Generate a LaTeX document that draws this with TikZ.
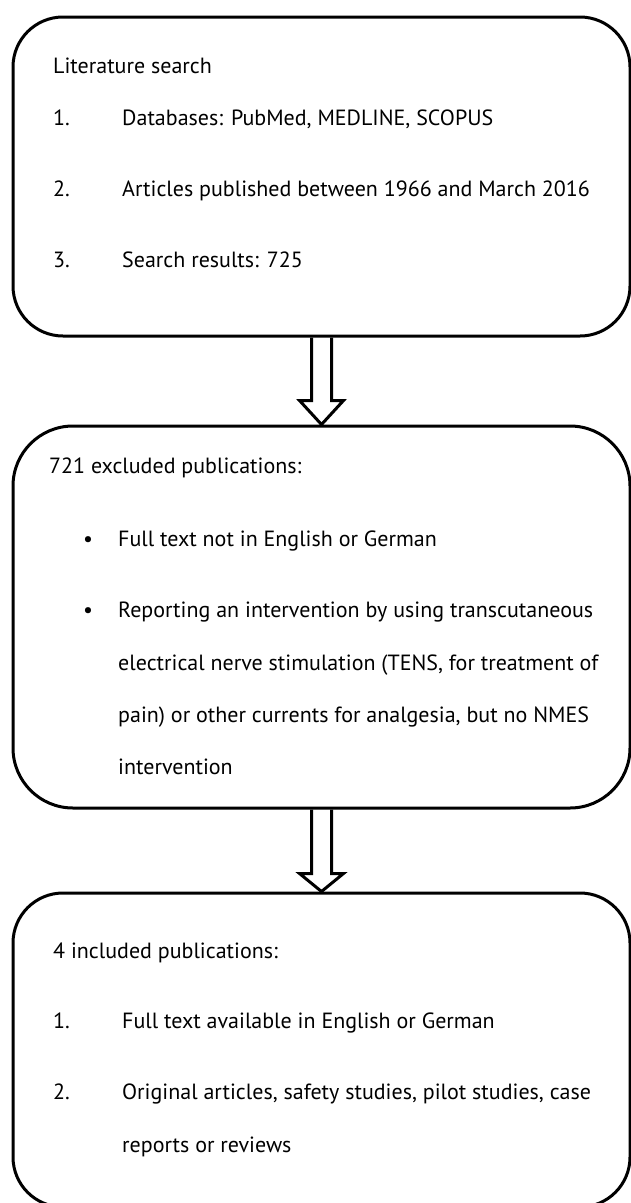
\documentclass[tikz,border=0pt]{standalone}
\usepackage{fontspec}
\setmainfont{PT Sans}
\usetikzlibrary{calc}

\begin{document}
\begin{tikzpicture}[x=1pt, y=-1pt,
  box/.style={draw, line width=3pt, rounded corners=#1, minimum width=617pt, inner sep=0pt},
  box/.default=50pt,
  txt/.style={anchor=base west, inner sep=0pt, font=\fontsize{22}{26}\selectfont},
  hollow/.style={line width=3pt}]

\useasboundingbox (0,0) rectangle (631,1203);

% Three rounded boxes
\node[box, minimum height=319pt] (search) at (321.5,176.5) {};
\node[box=60pt, minimum height=382pt] (excl) at (321.5,617) {};
\node[box, minimum height=314pt] (incl) at (321.5,1050) {};

% Literature search
\node[txt] (title1) at (53,73) {Literature search};
\node[txt] (num11) at (53,125) {1.};
\node[txt] (item11) at (122,125) {Databases: PubMed, MEDLINE, SCOPUS};
\node[txt] (num12) at (53,196) {2.};
\node[txt] (item12) at (122,196) {Articles published between 1966 and March 2016};
\node[txt] (num13) at (53,267) {3.};
\node[txt] (item13) at (122,267) {Search results: 725};

% Excluded
\node[txt] (title2) at (49,473) {721 excluded publications:};
\node[txt] (dot21) at (83,546) {\textbullet};
\node[txt] (item21) at (118,546) {Full text not in English or German};
\node[txt] (dot22) at (83,617) {\textbullet};
\node[txt] (item22a) at (118,617) {Reporting an intervention by using transcutaneous};
\node[txt] (item22b) at (118,670) {electrical nerve stimulation (TENS, for treatment of};
\node[txt] (item22c) at (118,722) {pain) or other currents for analgesia, but no NMES};
\node[txt] (item22d) at (118,774) {intervention};

% Included
\node[txt] (title3) at (53,958) {4 included publications:};
\node[txt] (num31) at (53,1028) {1.};
\node[txt] (item31) at (122,1028) {Full text available in English or German};
\node[txt] (num32) at (53,1099) {2.};
\node[txt] (item32a) at (122,1099) {Original articles, safety studies, pilot studies, case};
\node[txt] (item32b) at (122,1152) {reports or reviews};

% Hollow block arrows
\draw[hollow] ($(search.south)+(-10,0)$) -- ($(excl.north)+(-10,-24)$)
  -- ($(excl.north)+(-22,-24)$) -- (excl.north) -- ($(excl.north)+(22,-24)$)
  -- ($(excl.north)+(10,-24)$) -- ($(search.south)+(10,0)$);
\draw[hollow] ($(excl.south)+(-10,0)$) -- ($(incl.north)+(-10,-18)$)
  -- ($(incl.north)+(-22,-18)$) -- (incl.north) -- ($(incl.north)+(22,-18)$)
  -- ($(incl.north)+(10,-18)$) -- ($(excl.south)+(10,0)$);

\end{tikzpicture}
\end{document}
